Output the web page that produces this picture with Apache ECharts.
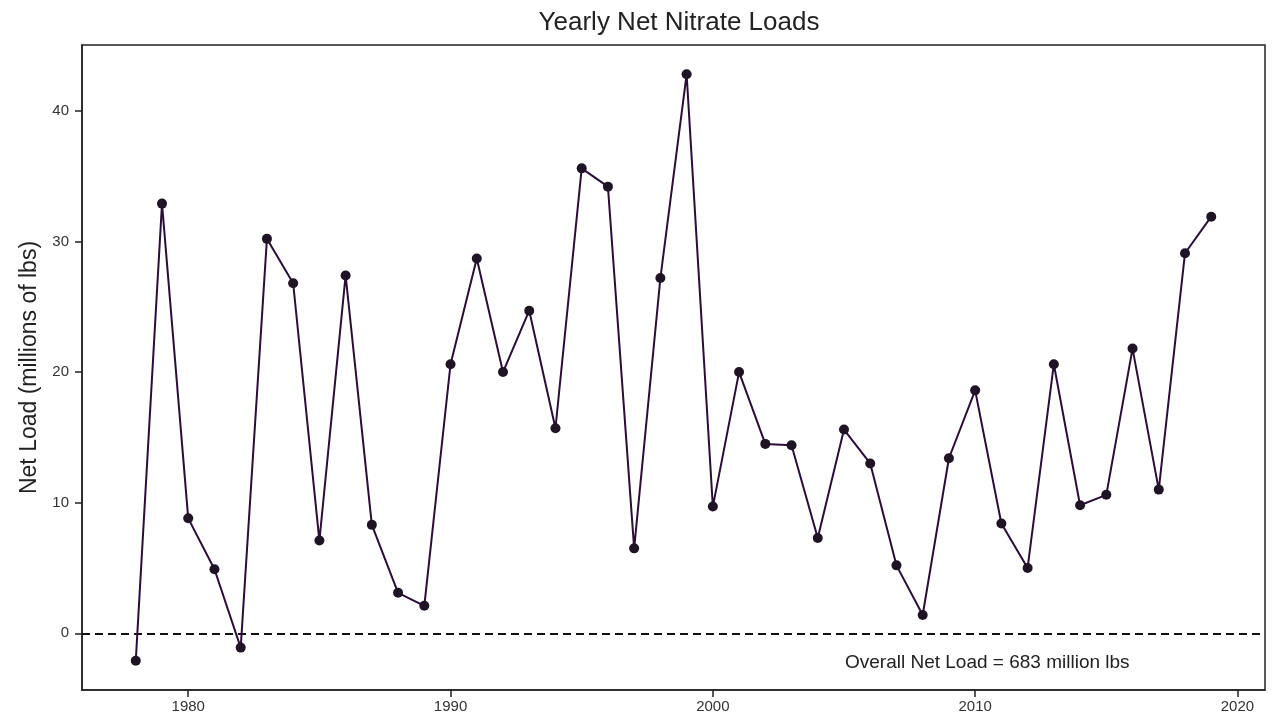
<!DOCTYPE html>
<html>
<head>
<meta charset="utf-8">
<title>Yearly Net Nitrate Loads</title>
<script src="https://cdn.jsdelivr.net/npm/echarts@6/dist/echarts.min.js"></script>
<style>
  html, body { margin: 0; padding: 0; background: #ffffff; }
  #chart { width: 1276px; height: 718px; }
</style>
</head>
<body>
<div id="chart"></div>
<script>
// Water years and net nitrate load for each (millions of lbs)
const years = [
  1978, 1979, 1980, 1981, 1982, 1983, 1984, 1985, 1986, 1987,
  1988, 1989, 1990, 1991, 1992, 1993, 1994, 1995, 1996, 1997,
  1998, 1999, 2000, 2001, 2002, 2003, 2004, 2005, 2006, 2007,
  2008, 2009, 2010, 2011, 2012, 2013, 2014, 2015, 2016, 2017,
  2018, 2019
];
const netLoads = [
  -2.1, 32.9, 8.8, 4.9, -1.1, 30.2, 26.8, 7.1, 27.4, 8.3,
  3.1, 2.1, 20.6, 28.7, 20.0, 24.7, 15.7, 35.6, 34.2, 6.5,
  27.2, 42.8, 9.7, 20.0, 14.5, 14.4, 7.3, 15.6, 13.0, 5.2,
  1.4, 13.4, 18.6, 8.4, 5.0, 20.6, 9.8, 10.6, 21.8, 11.0,
  29.1, 31.9
];
const xTicks = [1980, 1990, 2000, 2010, 2020];
const yTicks = [0, 10, 20, 30, 40];
const titleText = 'Yearly Net Nitrate Loads';
const yAxisTitle = 'Net Load (millions of lbs)';
const overallNote = 'Overall Net Load = 683 million lbs';

const FONT = '"Liberation Sans", Arial, Helvetica, sans-serif';

// 5% padding on each side of the data range
function padded(values) {
  const lo = Math.min(...values), hi = Math.max(...values);
  const pad = (hi - lo) * 0.05;
  return [lo - pad, hi + pad];
}
const xRange = padded(years);
const yRange = padded(netLoads);

const points = years.map((y, i) => [y, netLoads[i]]);

const chart = echarts.init(document.getElementById('chart'), null, { renderer: 'canvas' });

chart.setOption({
  animation: false,
  backgroundColor: '#ffffff',
  title: {
    text: titleText,
    left: 674,
    textAlign: 'center',
    top: 5,
    textStyle: { fontFamily: FONT, fontSize: 26, fontWeight: 'normal', color: '#222222' }
  },
  grid: {
    left: 82, right: 11, top: 45, bottom: 28,
    show: true, borderColor: '#222222', borderWidth: 1.5, backgroundColor: 'transparent'
  },
  xAxis: {
    type: 'value',
    min: xRange[0], max: xRange[1],
    axisLine: { show: true, onZero: false, lineStyle: { color: '#222222', width: 1.5 } },
    axisTick: { show: true, inside: false, length: 7, customValues: xTicks,
                lineStyle: { color: '#222222', width: 1.5 } },
    axisLabel: { customValues: xTicks, margin: 9, color: '#333333',
                 fontFamily: FONT, fontSize: 15,
                 formatter: (v) => String(Math.round(v)) },
    splitLine: { show: false }
  },
  yAxis: {
    type: 'value',
    min: yRange[0], max: yRange[1],
    name: yAxisTitle,
    nameLocation: 'middle',
    nameGap: 38,
    nameTextStyle: { fontFamily: FONT, fontSize: 23, color: '#222222' },
    axisLine: { show: true, onZero: false, lineStyle: { color: '#222222', width: 1.5 } },
    axisTick: { show: true, inside: false, length: 7, customValues: yTicks,
                lineStyle: { color: '#222222', width: 1.5 } },
    axisLabel: { customValues: yTicks, margin: 13, color: '#333333',
                 fontFamily: FONT, fontSize: 15,
                 formatter: (v) => String(Math.round(v)) },
    splitLine: { show: false }
  },
  series: [{
    type: 'line',
    data: points,
    symbol: 'circle',
    symbolSize: 10,
    lineStyle: { color: '#2a0e38', width: 2 },
    itemStyle: { color: '#1e1424', borderWidth: 0 },
    z: 3,
    markLine: {
      silent: true,
      symbol: ['none', 'none'],
      label: { show: false },
      lineStyle: { color: '#111111', width: 1.8, type: [8, 5] },
      data: [{ yAxis: 0 }],
      z: 2
    }
  }],
  graphic: [{
    type: 'text',
    left: 845,
    top: 653,
    style: {
      text: overallNote,
      fontFamily: FONT,
      fontSize: 19,
      fill: '#222222'
    }
  }]
});
</script>
</body>
</html>
